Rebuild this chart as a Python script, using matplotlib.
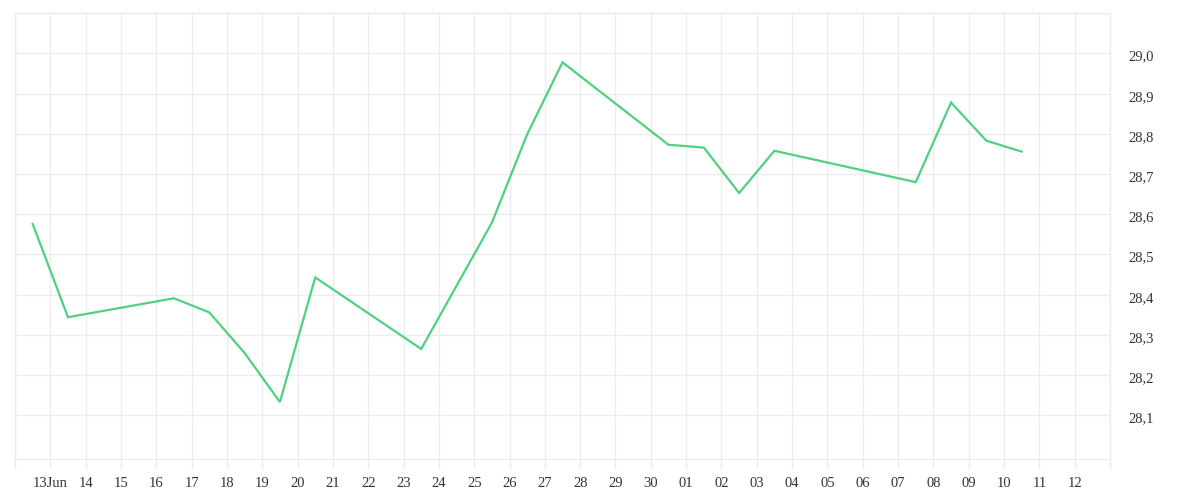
import pandas as pd
import matplotlib.pyplot as plt
import matplotlib.dates as mdates
import matplotlib.transforms as mtrans
from matplotlib.ticker import FixedLocator, FuncFormatter

# daily closes (stamped at midday)
dates = ['2014-06-12', '2014-06-13', '2014-06-16', '2014-06-17', '2014-06-18',
         '2014-06-19', '2014-06-20', '2014-06-23', '2014-06-25', '2014-06-26',
         '2014-06-27', '2014-06-30', '2014-07-01', '2014-07-02', '2014-07-03',
         '2014-07-07', '2014-07-08', '2014-07-09', '2014-07-10']
prices = [28.576, 28.344, 28.391, 28.356, 28.255,
          28.133, 28.443, 28.265, 28.579, 28.799,
          28.978, 28.773, 28.766, 28.653, 28.758,
          28.680, 28.878, 28.783, 28.756]
y_ticks = [28.1, 28.2, 28.3, 28.4, 28.5, 28.6, 28.7, 28.8, 28.9, 29.0]

x = pd.to_datetime(dates) + pd.Timedelta(hours=12)
days = pd.date_range('2014-06-12', '2014-07-13', freq='D')

grid_col = '#ececec'
text_col = '#333333'
plt.rcParams['font.family'] = ['Liberation Serif', 'DejaVu Serif']

fig = plt.figure(figsize=(12, 5), dpi=100)
ax = fig.add_axes([0.0125, 0.0826, 0.9125, 0.8908])

ax.plot(x, prices, color='#4fd17f', lw=1.6, solid_joinstyle='miter')

ax.set_xlim(days[0], days[-1])
ax.set_ylim(27.992, 29.1)

# x axis: one tick per day, labels on 13 Jun .. 12 Jul
ax.xaxis.set_major_locator(FixedLocator(mdates.date2num(days)))
def fmt_day(v, pos):
    d = mdates.num2date(v)
    if (d.month, d.day) in [(6, 12), (7, 13)]:
        return ''
    if (d.month, d.day) == (6, 13):
        return '13Jun'
    return d.strftime('%d')
ax.xaxis.set_major_formatter(FuncFormatter(fmt_day))
ax.tick_params(axis='x', length=6.5, width=1, color=grid_col, pad=6.5,
               labelsize=10.5, labelcolor=text_col)

# y axis on the right, labels sit a touch below their gridline
ax.yaxis.tick_right()
ax.set_yticks(y_ticks + [29.1])
ax.set_yticklabels([('%.1f' % v).replace('.', ',') for v in y_ticks] + [''])
ax.tick_params(axis='y', length=0, pad=13, labelsize=10.5, labelcolor=text_col)
shift = mtrans.ScaledTranslation(0, -2 / 100, fig.dpi_scale_trans)
for lab in ax.get_yticklabels():
    lab.set_transform(lab.get_transform() + shift)

ax.grid(True, color=grid_col, lw=1)
ax.set_axisbelow(True)
for s in ax.spines.values():
    s.set_color(grid_col)
    s.set_linewidth(1)

fig.savefig('out.png', dpi=100, facecolor='white')
